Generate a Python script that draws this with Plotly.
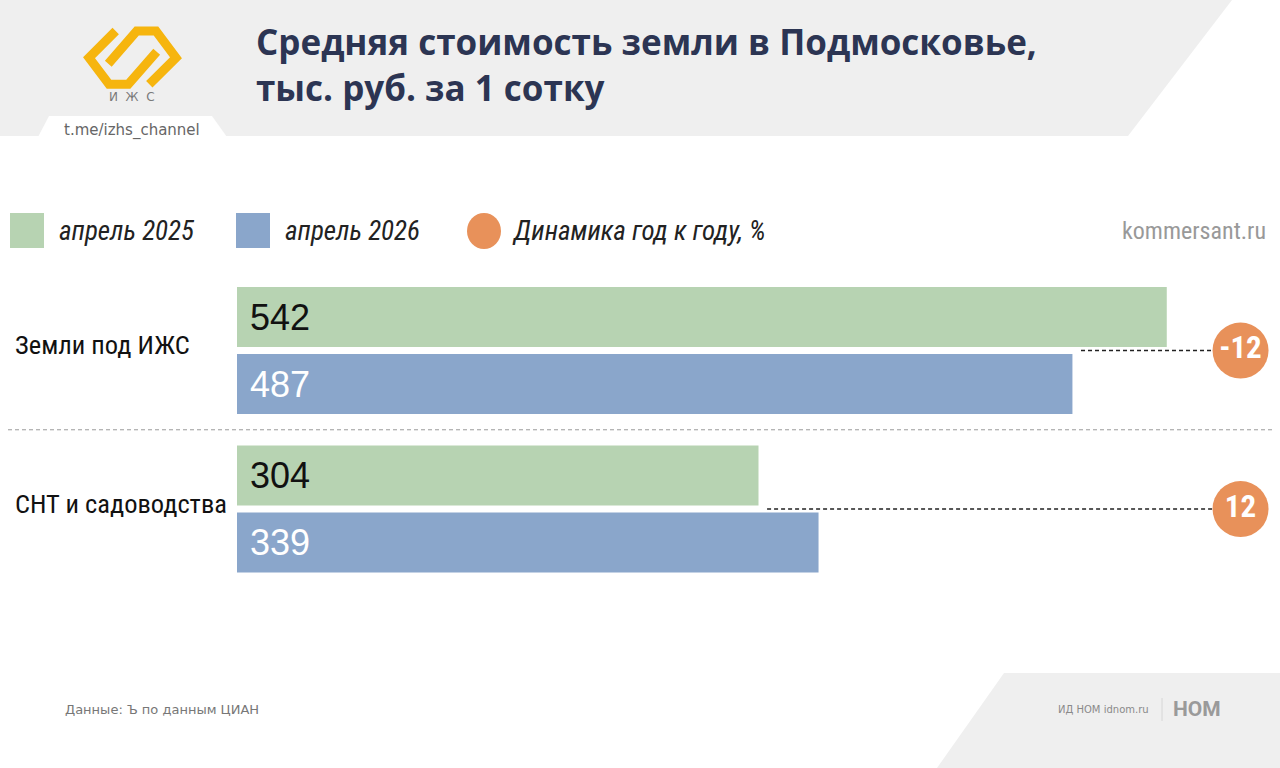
import plotly.graph_objects as go

# данные
categories = ["Земли под ИЖС", "СНТ и садоводства"]
april_2025 = [542, 304]
april_2026 = [487, 339]
yoy_change = ["-12", "12"]

W, H = 1280, 768
GREEN = "#b7d3b2"
BLUE = "#8aa6cb"
ORANGE = "#e8915a"
NAVY = "#2c3553"
GRAY_BG = "#efefef"
NARROW = "Liberation Sans Narrow, Arial Narrow, Roboto Condensed, DejaVu Sans Condensed, sans-serif"
ARIAL = "Liberation Sans, Arial, sans-serif"

X_MAX = 608      # шкала: 0 у левого края баров
DYN_X = 585      # колонка кружков динамики


def px(x):
    return x / W


def py(y):
    return 1 - y / H


def poly(points):
    return "M " + " L ".join(f"{px(x):.5f},{py(y):.5f}" for x, y in points) + " Z"


def line_path(points):
    return "M " + " L ".join(f"{px(x):.5f},{py(y):.5f}" for x, y in points)


fig = go.Figure()

fig.add_trace(go.Bar(
    y=categories, x=april_2025, orientation="h", name="апрель 2025",
    marker=dict(color=GREEN, line=dict(width=0)),
    text=april_2025, texttemplate="\u00a0%{x}", textposition="inside",
    insidetextanchor="start", textfont=dict(family=ARIAL, size=36, color="#111111"),
    hoverinfo="skip",
))
fig.add_trace(go.Bar(
    y=categories, x=april_2026, orientation="h", name="апрель 2026",
    marker=dict(color=BLUE, line=dict(width=0)),
    text=april_2026, texttemplate="\u00a0%{x}", textposition="inside",
    insidetextanchor="start", textfont=dict(family=ARIAL, size=36, color="white"),
    hoverinfo="skip",
))
fig.add_trace(go.Scatter(
    y=categories, x=[DYN_X] * len(categories), mode="markers+text",
    marker=dict(size=56, color=ORANGE, line=dict(width=0)),
    text=["<b>%s</b>" % t for t in yoy_change], textposition="middle center",
    textfont=dict(family=NARROW, size=31, color="white"),
    hoverinfo="skip", cliponaxis=False,
))

shapes = []
# шапка
shapes.append(dict(type="path", xref="paper", yref="paper", layer="below",
                   path=poly([(0, 0), (1232, 0), (1128, 136), (0, 136)]),
                   fillcolor=GRAY_BG, line=dict(width=0)))
shapes.append(dict(type="path", xref="paper", yref="paper", layer="below",
                   path=poly([(49, 116), (212, 116), (227, 137), (38, 137)]),
                   fillcolor="white", line=dict(width=0)))
# подвал
shapes.append(dict(type="path", xref="paper", yref="paper", layer="below",
                   path=poly([(1004, 673), (1280, 673), (1280, 768), (937, 768)]),
                   fillcolor=GRAY_BG, line=dict(width=0)))
shapes.append(dict(type="line", xref="paper", yref="paper",
                   x0=px(1162), x1=px(1162), y0=py(698), y1=py(721),
                   line=dict(color="#d6d6d6", width=1)))
# логотип
for pts in ([(115.7, 31), (89, 57.7), (109, 84.3), (128.3, 84.3), (156.7, 51.7)],
            [(149.3, 84.3), (176, 57.7), (156, 31), (136.7, 31), (108.3, 63.7)]):
    shapes.append(dict(type="path", xref="paper", yref="paper",
                       path=line_path(pts), line=dict(color="#f6b50e", width=9)))
# легенда
shapes.append(dict(type="rect", xref="paper", yref="paper",
                   x0=px(10), x1=px(44), y0=py(248), y1=py(213),
                   fillcolor=GREEN, line=dict(width=0)))
shapes.append(dict(type="rect", xref="paper", yref="paper",
                   x0=px(236), x1=px(270), y0=py(248), y1=py(213),
                   fillcolor=BLUE, line=dict(width=0)))
shapes.append(dict(type="circle", xref="paper", yref="paper",
                   x0=px(467), x1=px(501), y0=py(249), y1=py(213),
                   fillcolor=ORANGE, line=dict(width=0)))
# разделитель групп
shapes.append(dict(type="line", xref="paper", yref="y",
                   x0=px(8), x1=px(1275), y0=0.5, y1=0.5,
                   line=dict(color="#9a9a9a", width=1, dash="4px,3px")))
# линии к кружкам динамики
for i in range(len(categories)):
    shapes.append(dict(type="line", xref="x", yref="y", layer="below",
                       x0=min(april_2025[i], april_2026[i]) + 5, x1=DYN_X, y0=i, y1=i,
                       line=dict(color="#222222", width=1.3, dash="4px,3px")))

annotations = [
    dict(text="<b>Средняя стоимость земли в Подмосковье,<br>тыс. руб. за 1 сотку</b>",
         x=px(254), y=py(65), xanchor="left", yanchor="middle", align="left",
         font=dict(family="Open Sans, Roboto, sans-serif", size=35, color=NAVY)),
    dict(text="И  Ж  С", x=px(132), y=py(97), xanchor="center", yanchor="middle",
         font=dict(family="DejaVu Sans, sans-serif", size=12, color="#7a7a7a")),
    dict(text="t.me/izhs_channel", x=px(132), y=py(131), xanchor="center", yanchor="middle",
         font=dict(family="DejaVu Sans, sans-serif", size=15, color="#666666")),
    dict(text="<i>апрель 2025</i>", x=px(57), y=py(231), xanchor="left", yanchor="middle",
         font=dict(family=NARROW, size=27, color="#222222")),
    dict(text="<i>апрель 2026</i>", x=px(283), y=py(231), xanchor="left", yanchor="middle",
         font=dict(family=NARROW, size=27, color="#222222")),
    dict(text="<i>Динамика год к году, %</i>", x=px(510), y=py(231), xanchor="left", yanchor="middle",
         font=dict(family=NARROW, size=27, color="#222222")),
    dict(text="kommersant.ru", x=px(1268), y=py(231), xanchor="right", yanchor="middle",
         font=dict(family=NARROW, size=24, color="#999999")),
    dict(text="Данные: Ъ по данным ЦИАН", x=px(63), y=py(709), xanchor="left", yanchor="middle",
         font=dict(family="DejaVu Sans, sans-serif", size=13, color="#777777")),
    dict(text="ИД НОМ idnom.ru", x=px(1151), y=py(709), xanchor="right", yanchor="middle",
         font=dict(family="DejaVu Sans, sans-serif", size=10, color="#8a8a8a")),
    dict(text="<b>НОМ</b>", x=px(1171), y=py(709), xanchor="left", yanchor="middle",
         font=dict(family="Roboto, sans-serif", size=21, color="#9a9a9a")),
]
for cat in categories:
    annotations.append(dict(text=cat, x=px(13), xref="paper", y=cat, yref="y", yshift=6,
                            xanchor="left", yanchor="middle", showarrow=False,
                            font=dict(family=NARROW, size=26.5, color="#111111")))
for a in annotations:
    a.setdefault("xref", "paper")
    a.setdefault("yref", "paper")
    a.setdefault("showarrow", False)

fig.update_layout(
    width=W, height=H, margin=dict(l=0, r=0, t=0, b=0),
    paper_bgcolor="white", plot_bgcolor="rgba(0,0,0,0)",
    barmode="group", bargap=0.1546, bargroupgap=0.1045,
    showlegend=False, shapes=shapes, annotations=annotations,
    xaxis=dict(domain=[px(237), 1], range=[0, X_MAX], visible=False, fixedrange=True),
    yaxis=dict(domain=[py(600), py(270)], range=[1.574, -0.508], visible=False,
               type="category", categoryorder="array", categoryarray=categories, fixedrange=True),
)

# убираем отступ body, чтобы рисунок встал в угол окна
fig.write_html("out.html", config={"displayModeBar": False},
               post_script="document.body.style.margin='0';document.body.style.overflow='hidden';")
